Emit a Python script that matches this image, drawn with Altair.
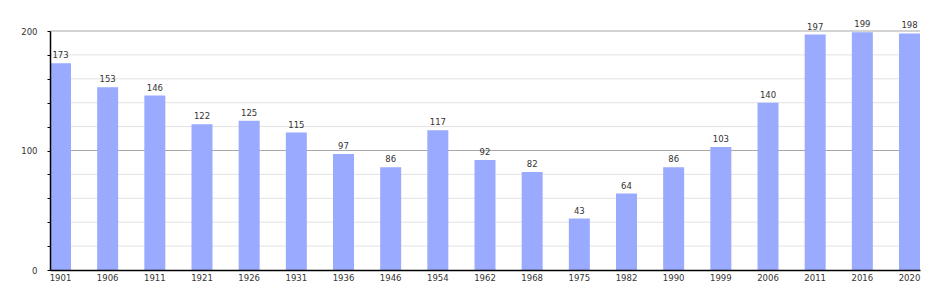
import altair as alt
import pandas as pd

years = ["1901", "1906", "1911", "1921", "1926", "1931", "1936", "1946", "1954", "1962",
         "1968", "1975", "1982", "1990", "1999", "2006", "2011", "2016", "2020"]
values = [173, 153, 146, 122, 125, 115, 97, 86, 117, 92, 82, 43, 64, 86, 103, 140, 197, 199, 198]
minor_grid = [20, 40, 60, 80, 120, 140, 160, 180]
major_grid = [100, 200]
tick_values = [0, 20, 40, 60, 80, 100, 120, 140, 160, 180, 200]

df = pd.DataFrame({"year": years, "value": values})
mdf = pd.DataFrame({"g": minor_grid})
gdf = pd.DataFrame({"g": major_grid})

FONT = "DejaVu Sans"
x_scale = alt.Scale(paddingInner=0.555, paddingOuter=0)
y_scale = alt.Scale(domain=[0, 200], nice=False)

y_axis = alt.Axis(values=tick_values, labelOverlap=False,
                  labelExpr="datum.value % 100 == 0 ? datum.label : ''",
                  tickSize=3, tickColor="#000000", domainColor="#000000",
                  domainWidth=1.5, grid=False,
                  labelFont=FONT, labelFontSize=8.5, labelColor="#333333",
                  labelPadding=10, zindex=1)
x_axis = alt.Axis(labelAngle=0, ticks=False, domainColor="#000000", domainWidth=1.5,
                  labelFont=FONT, labelFontSize=8.5, labelColor="#333333",
                  labelPadding=3, zindex=1)

minor = alt.Chart(mdf).mark_rule(color="#e2e2e2", strokeWidth=1).encode(
    y=alt.Y("g:Q", scale=y_scale, axis=y_axis, title=None)
)
major = alt.Chart(gdf).mark_rule(color="#a8a8a8", strokeWidth=1).encode(
    y=alt.Y("g:Q", scale=y_scale, axis=y_axis, title=None)
)

bars = alt.Chart(df).mark_bar(color="#99aaff").encode(
    x=alt.X("year:N", sort=years, scale=x_scale, title=None, axis=x_axis),
    y=alt.Y("value:Q", scale=y_scale, title=None, axis=y_axis),
)

texts = alt.Chart(df).mark_text(dy=-8, font=FONT, fontSize=8.5, color="#333333").encode(
    x=alt.X("year:N", sort=years, scale=x_scale, title=None, axis=x_axis),
    y=alt.Y("value:Q", scale=y_scale, title=None, axis=y_axis),
    text="value:Q",
)

chart = alt.layer(minor, major, bars, texts).properties(
    width=870, height=239,
    padding={"left": 50, "top": 31, "right": 30, "bottom": 30},
    autosize=alt.AutoSizeParams(type="none"),
).configure_view(stroke=None)

chart.save("out.html", embed_options={"renderer": "svg", "actions": False})
